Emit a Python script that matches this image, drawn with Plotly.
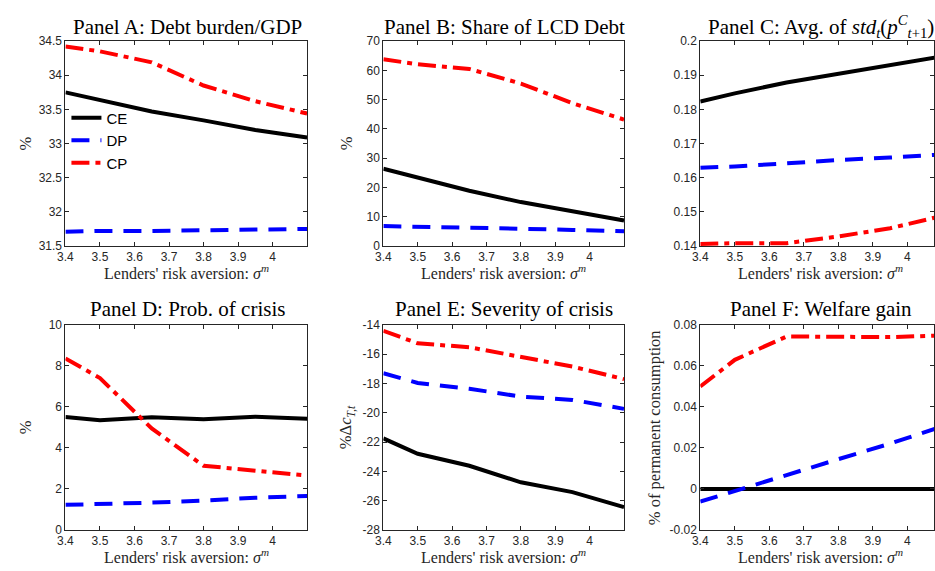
import plotly.graph_objects as go

W, H = 935, 571

# ---- data ----
sigma_m = [3.4, 3.5, 3.65, 3.8, 3.95, 4.1]
series_names = ["CE", "DP", "CP"]

debt_gdp_ce = [33.75, 33.64, 33.47, 33.34, 33.20, 33.09]
debt_gdp_dp = [31.71, 31.72, 31.72, 31.73, 31.74, 31.75]
debt_gdp_cp = [34.42, 34.35, 34.19, 33.85, 33.62, 33.44]

lcd_share_ce = [26.4, 23.3, 18.9, 15.0, 11.9, 8.7]
lcd_share_dp = [6.8, 6.5, 6.2, 5.9, 5.5, 5.0]
lcd_share_cp = [63.8, 62.1, 60.5, 55.5, 48.8, 43.2]

std_p_ce = [0.1823, 0.1847, 0.1879, 0.1904, 0.1928, 0.1955]
std_p_dp = [0.1629, 0.1633, 0.1642, 0.1652, 0.1659, 0.1668]
std_p_cp = [0.1406, 0.1408, 0.1408, 0.1428, 0.1452, 0.1488]

prob_ce = [5.51, 5.35, 5.50, 5.40, 5.52, 5.43]
prob_dp = [1.22, 1.25, 1.33, 1.43, 1.57, 1.65]
prob_cp = [8.37, 7.41, 4.95, 3.13, 2.89, 2.65]

sev_ce = [-21.75, -22.80, -23.62, -24.75, -25.42, -26.45]
sev_dp = [-17.30, -17.96, -18.36, -18.89, -19.12, -19.73]
sev_cp = [-14.40, -15.25, -15.52, -16.18, -16.84, -17.70]

welf_ce = [0.0, 0.0, 0.0, 0.0, 0.0, 0.0]
welf_dp = [-0.0062, -0.0009, 0.0069, 0.0145, 0.0221, 0.0305]
welf_cp = [0.0500, 0.0630, 0.0744, 0.0744, 0.0741, 0.0749]

titles = [
    "Panel A: Debt burden/GDP",
    "Panel B: Share of LCD Debt",
    "Panel C: Avg. of <i>std<sub>t</sub></i>(<i>p</i><sup><i>C</i></sup><sub><i>t</i>+1</sub>)",
    "Panel D: Prob. of crisis",
    "Panel E: Severity of crisis",
    "Panel F: Welfare gain",
]
ylabels = ["%", "%", "", "%", "%Δ<i>c</i><sub><i>T,t</i></sub>", "% of permanent consumption"]
xlabel = "Lenders' risk aversion: <i>σ</i><sup><i>m</i></sup>"

x_tickvals = [3.4, 3.5, 3.6, 3.7, 3.8, 3.9, 4.0]
x_ticktext = ["3.4", "3.5", "3.6", "3.7", "3.8", "3.9", "4"]

y_ticks = [
    ([31.5, 32, 32.5, 33, 33.5, 34, 34.5], ["31.5", "32", "32.5", "33", "33.5", "34", "34.5"]),
    ([0, 10, 20, 30, 40, 50, 60, 70], ["0", "10", "20", "30", "40", "50", "60", "70"]),
    ([0.14, 0.15, 0.16, 0.17, 0.18, 0.19, 0.2], ["0.14", "0.15", "0.16", "0.17", "0.18", "0.19", "0.2"]),
    ([0, 2, 4, 6, 8, 10], ["0", "2", "4", "6", "8", "10"]),
    ([-28, -26, -24, -22, -20, -18, -16, -14], ["-28", "-26", "-24", "-22", "-20", "-18", "-16", "-14"]),
    ([-0.02, 0, 0.02, 0.04, 0.06, 0.08], ["-0.02", "0", "0.02", "0.04", "0.06", "0.08"]),
]
y_ranges = [[31.5, 34.5], [0, 70], [0.14, 0.2], [0, 10], [-28, -14], [-0.02, 0.08]]

panel_data = [
    (debt_gdp_ce, debt_gdp_dp, debt_gdp_cp),
    (lcd_share_ce, lcd_share_dp, lcd_share_cp),
    (std_p_ce, std_p_dp, std_p_cp),
    (prob_ce, prob_dp, prob_cp),
    (sev_ce, sev_dp, sev_cp),
    (welf_ce, welf_dp, welf_cp),
]

# ---- layout geometry (pixels) ----
col_px = [(58, 302), (379, 622), (699, 935)]
row_px = [(35, 245), (326, 536)]
x_ranges = [[3.4, 4.1], [3.4, 4.1], [3.4, 4.077]]
title_cx = [181, 501, 821]
xlab_cx = [180, 500, 820]
ylab_x = [18, 342, 653]
title_y = [20, 310]
xlab_y = [272, 563]

styles = [
    dict(color="#000000", width=4, dash="solid"),
    dict(color="#0000FF", width=4, dash="18px,11px"),
    dict(color="#FF0000", width=4, dash="18px,6px,5px,6px"),
]

AX_COLOR = "#262626"
fig = go.Figure()
annotations = []

for i in range(6):
    r, c = divmod(i, 3)
    n = i + 1
    xa = "x" if n == 1 else f"x{n}"
    ya = "y" if n == 1 else f"y{n}"
    x0, x1 = col_px[c]
    y0, y1 = row_px[r]
    for k, vals in enumerate(panel_data[i]):
        fig.add_trace(go.Scatter(
            x=sigma_m, y=vals, mode="lines", name=series_names[k],
            line=styles[k], xaxis=xa, yaxis=ya, showlegend=(i == 0),
            cliponaxis=True,
        ))
    xkey = "xaxis" if n == 1 else f"xaxis{n}"
    ykey = "yaxis" if n == 1 else f"yaxis{n}"
    fig.update_layout({
        xkey: dict(
            domain=[x0 / W, x1 / W], range=x_ranges[c], anchor=ya,
            tickvals=x_tickvals, ticktext=x_ticktext,
            ticks="inside", ticklen=4, tickcolor=AX_COLOR, mirror="ticks",
            showline=True, linecolor=AX_COLOR, linewidth=1,
            showgrid=False, zeroline=False,
            tickfont=dict(family="Liberation Sans", size=12, color=AX_COLOR),
        ),
        ykey: dict(
            domain=[1 - y1 / H, 1 - y0 / H], range=y_ranges[i], anchor=xa,
            tickvals=y_ticks[i][0], ticktext=y_ticks[i][1],
            ticks="inside", ticklen=4, tickcolor=AX_COLOR, mirror="ticks",
            showline=True, linecolor=AX_COLOR, linewidth=1,
            showgrid=False, zeroline=False,
            tickfont=dict(family="Liberation Sans", size=12, color=AX_COLOR),
        ),
    })
    annotations.append(dict(
        text=titles[i], x=title_cx[c] / W, y=1 - title_y[r] / H,
        xref="paper", yref="paper", xanchor="center", yanchor="middle",
        showarrow=False, font=dict(family="Liberation Serif", size=21, color="#000000"),
    ))
    annotations.append(dict(
        text=xlabel, x=xlab_cx[c] / W, y=1 - xlab_y[r] / H,
        xref="paper", yref="paper", xanchor="center", yanchor="middle",
        showarrow=False, font=dict(family="Liberation Serif", size=16, color=AX_COLOR),
    ))
    if ylabels[i]:
        annotations.append(dict(
            text=ylabels[i], x=ylab_x[c] / W, y=1 - ((y0 + y1) / 2) / H,
            xref="paper", yref="paper", xanchor="center", yanchor="middle",
            textangle=-90, showarrow=False,
            font=dict(family="Liberation Serif", size=16.5, color=AX_COLOR),
        ))

fig.update_layout(
    width=W, height=H,
    margin=dict(l=0, r=0, t=0, b=0),
    paper_bgcolor="white", plot_bgcolor="white",
    annotations=annotations,
    legend=dict(
        x=59 / W, y=1 - 97 / H, xanchor="left", yanchor="top",
        bgcolor="rgba(0,0,0,0)", borderwidth=0,
        font=dict(family="Liberation Sans", size=15, color="#000000"),
        tracegroupgap=0, itemwidth=30,
    ),
)

fig.write_html(
    "out.html",
    config={"displayModeBar": False},
    post_script="document.body.style.margin='0';document.body.style.overflow='hidden';",
)
